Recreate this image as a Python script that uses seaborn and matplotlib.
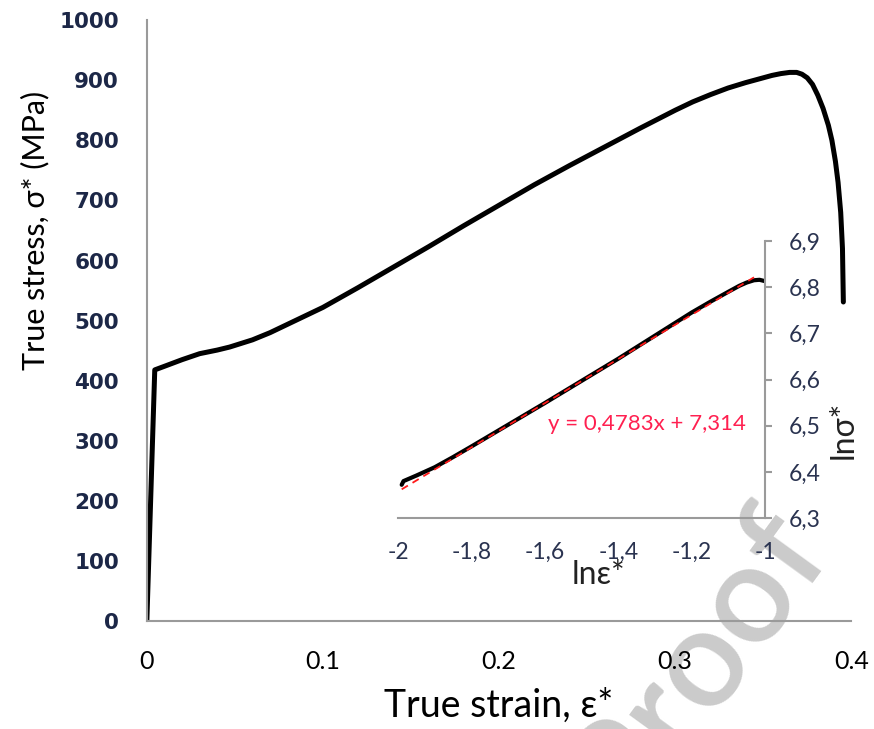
import numpy as np
import pandas as pd
import seaborn as sns
import matplotlib.pyplot as plt

# main curve: true stress-strain
strain = [0, 0.0045, 0.01, 0.02, 0.03, 0.04, 0.047, 0.06, 0.07, 0.08, 0.09, 0.10,
          0.12, 0.14, 0.16, 0.18, 0.20, 0.22, 0.24, 0.26, 0.28, 0.30, 0.31,
          0.32, 0.33, 0.34, 0.35, 0.355, 0.36, 0.365, 0.369, 0.372, 0.375,
          0.378, 0.381, 0.384, 0.387, 0.389, 0.391, 0.3925, 0.394, 0.395, 0.3955]
stress = [0, 418, 424, 435, 445, 451, 456, 468, 480, 494, 508, 522,
          555, 589, 623, 658, 692, 726, 758, 789, 820, 850, 864,
          876, 887, 896, 904, 908, 911, 913, 913, 910, 904,
          893, 875, 853, 825, 800, 765, 730, 680, 620, 531]

# inset: ln-ln plot
ln_strain = [-1.99, -1.985, -1.95, -1.9, -1.85, -1.8, -1.7, -1.6, -1.5, -1.4,
             -1.3, -1.2, -1.15, -1.1, -1.07, -1.05, -1.03, -1.015, -1.0]
ln_stress = [6.372, 6.38, 6.392, 6.41, 6.432, 6.455, 6.502, 6.549, 6.597, 6.645,
             6.695, 6.745, 6.768, 6.79, 6.803, 6.81, 6.815, 6.816, 6.813]
fit_slope = 0.4783
fit_intercept = 7.314
fit_label = "y = 0,4783x + 7,314"

main_xticks = [0, 0.1, 0.2, 0.3, 0.4]
main_xticklabels = ["0", "0.1", "0.2", "0.3", "0.4"]
main_yticks = list(range(0, 1001, 100))
inset_xticks = [-2, -1.8, -1.6, -1.4, -1.2, -1]
inset_xticklabels = ["-2", "-1,8", "-1,6", "-1,4", "-1,2", "-1"]
inset_yticks = [6.3, 6.4, 6.5, 6.6, 6.7, 6.8, 6.9]
inset_yticklabels = ["6,3", "6,4", "6,5", "6,6", "6,7", "6,8", "6,9"]

sns.set_style('white')
plt.rcParams['font.family'] = ['Lato', 'DejaVu Sans']

fig = plt.figure(figsize=(8.74, 7.29), dpi=100)
spine_col = '#9a9a9a'
navy = '#1c2747'

# watermark (sits behind the axes)
fig.text(0.797, 0.094, "Proof", fontsize=100, color='#cbcbcb', fontweight='semibold',
         rotation=54, ha='center', va='center', zorder=-1)

# main axes
ax = fig.add_axes([0.168, 0.148, 0.806, 0.8244])
ax.patch.set_alpha(0)
df = pd.DataFrame({'strain': strain, 'stress': stress})
sns.lineplot(data=df, x='strain', y='stress', ax=ax, color='black', linewidth=3.6,
             sort=False, estimator=None)
ax.set_xlim(0, 0.4)
ax.set_ylim(0, 1000)
ax.set_xticks(main_xticks)
ax.set_xticklabels(main_xticklabels, fontsize=18, color='black')
ax.set_yticks(main_yticks)
ax.set_yticklabels([str(v) for v in main_yticks], fontsize=15.5, color=navy,
                   fontweight='bold', family=['DejaVu Sans'])
for s in ['top', 'right']:
    ax.spines[s].set_visible(False)
for s in ['left', 'bottom']:
    ax.spines[s].set_color(spine_col)
    ax.spines[s].set_linewidth(1.5)
ax.tick_params(axis='both', direction='out', length=8, width=1.5, color=spine_col)
ax.tick_params(axis='x', pad=13)
ax.tick_params(axis='y', pad=12)
ax.set_xlabel("True strain, ε*", fontsize=27, color='black')
ax.xaxis.set_label_coords(0.5, -0.14)
ax.xaxis.label.set_va('center')
ax.set_ylabel("True stress, σ* (MPa)", fontsize=22, color='black')
ax.yaxis.set_label_coords(-0.159, 0.65)
ax.yaxis.label.set_va('center')

# inset axes
ins = fig.add_axes([0.4554, 0.2894, 0.4199, 0.38])
ins.patch.set_alpha(0)
dfi = pd.DataFrame({'lne': ln_strain, 'lns': ln_stress})
sns.lineplot(data=dfi, x='lne', y='lns', ax=ins, color='black', linewidth=3,
             sort=False, estimator=None)
fx = np.array([ln_strain[0], ln_strain[-3]])
sns.lineplot(x=fx, y=fit_slope * fx + fit_intercept, ax=ins, color='#ff1a1a',
             linewidth=1.3, linestyle=(0, (4, 3)), estimator=None)
ins.set_xlim(-2, -1)
ins.set_ylim(6.3, 6.9)
ins.set_xticks(inset_xticks)
ins.set_xticklabels(inset_xticklabels, fontsize=16.5, color='#2a3350')
ins.yaxis.tick_right()
ins.yaxis.set_label_position('right')
ins.set_yticks(inset_yticks)
ins.set_yticklabels(inset_yticklabels, fontsize=16.5, color='#2a3350')
for s in ['top', 'left']:
    ins.spines[s].set_visible(False)
for s in ['right', 'bottom']:
    ins.spines[s].set_color(spine_col)
    ins.spines[s].set_linewidth(1.5)
ins.tick_params(axis='both', direction='out', length=5, width=1.5, color=spine_col)
ins.tick_params(axis='x', pad=12)
ins.tick_params(axis='y', pad=12)
ins.set_xlabel("lnε*", fontsize=23, color='#222222')
ins.xaxis.set_label_coords(0.545, -0.206)
ins.xaxis.label.set_va('center')
ins.set_ylabel("lnσ*", fontsize=23, color='#222222', rotation=90)
ins.yaxis.set_label_coords(1.213, 0.318)
ins.yaxis.label.set_va('center')
ins.text(-1.322, 6.503, fit_label, color='#ff2050', fontsize=16,
         ha='center', va='center')

fig.savefig('out.png', dpi=100)
